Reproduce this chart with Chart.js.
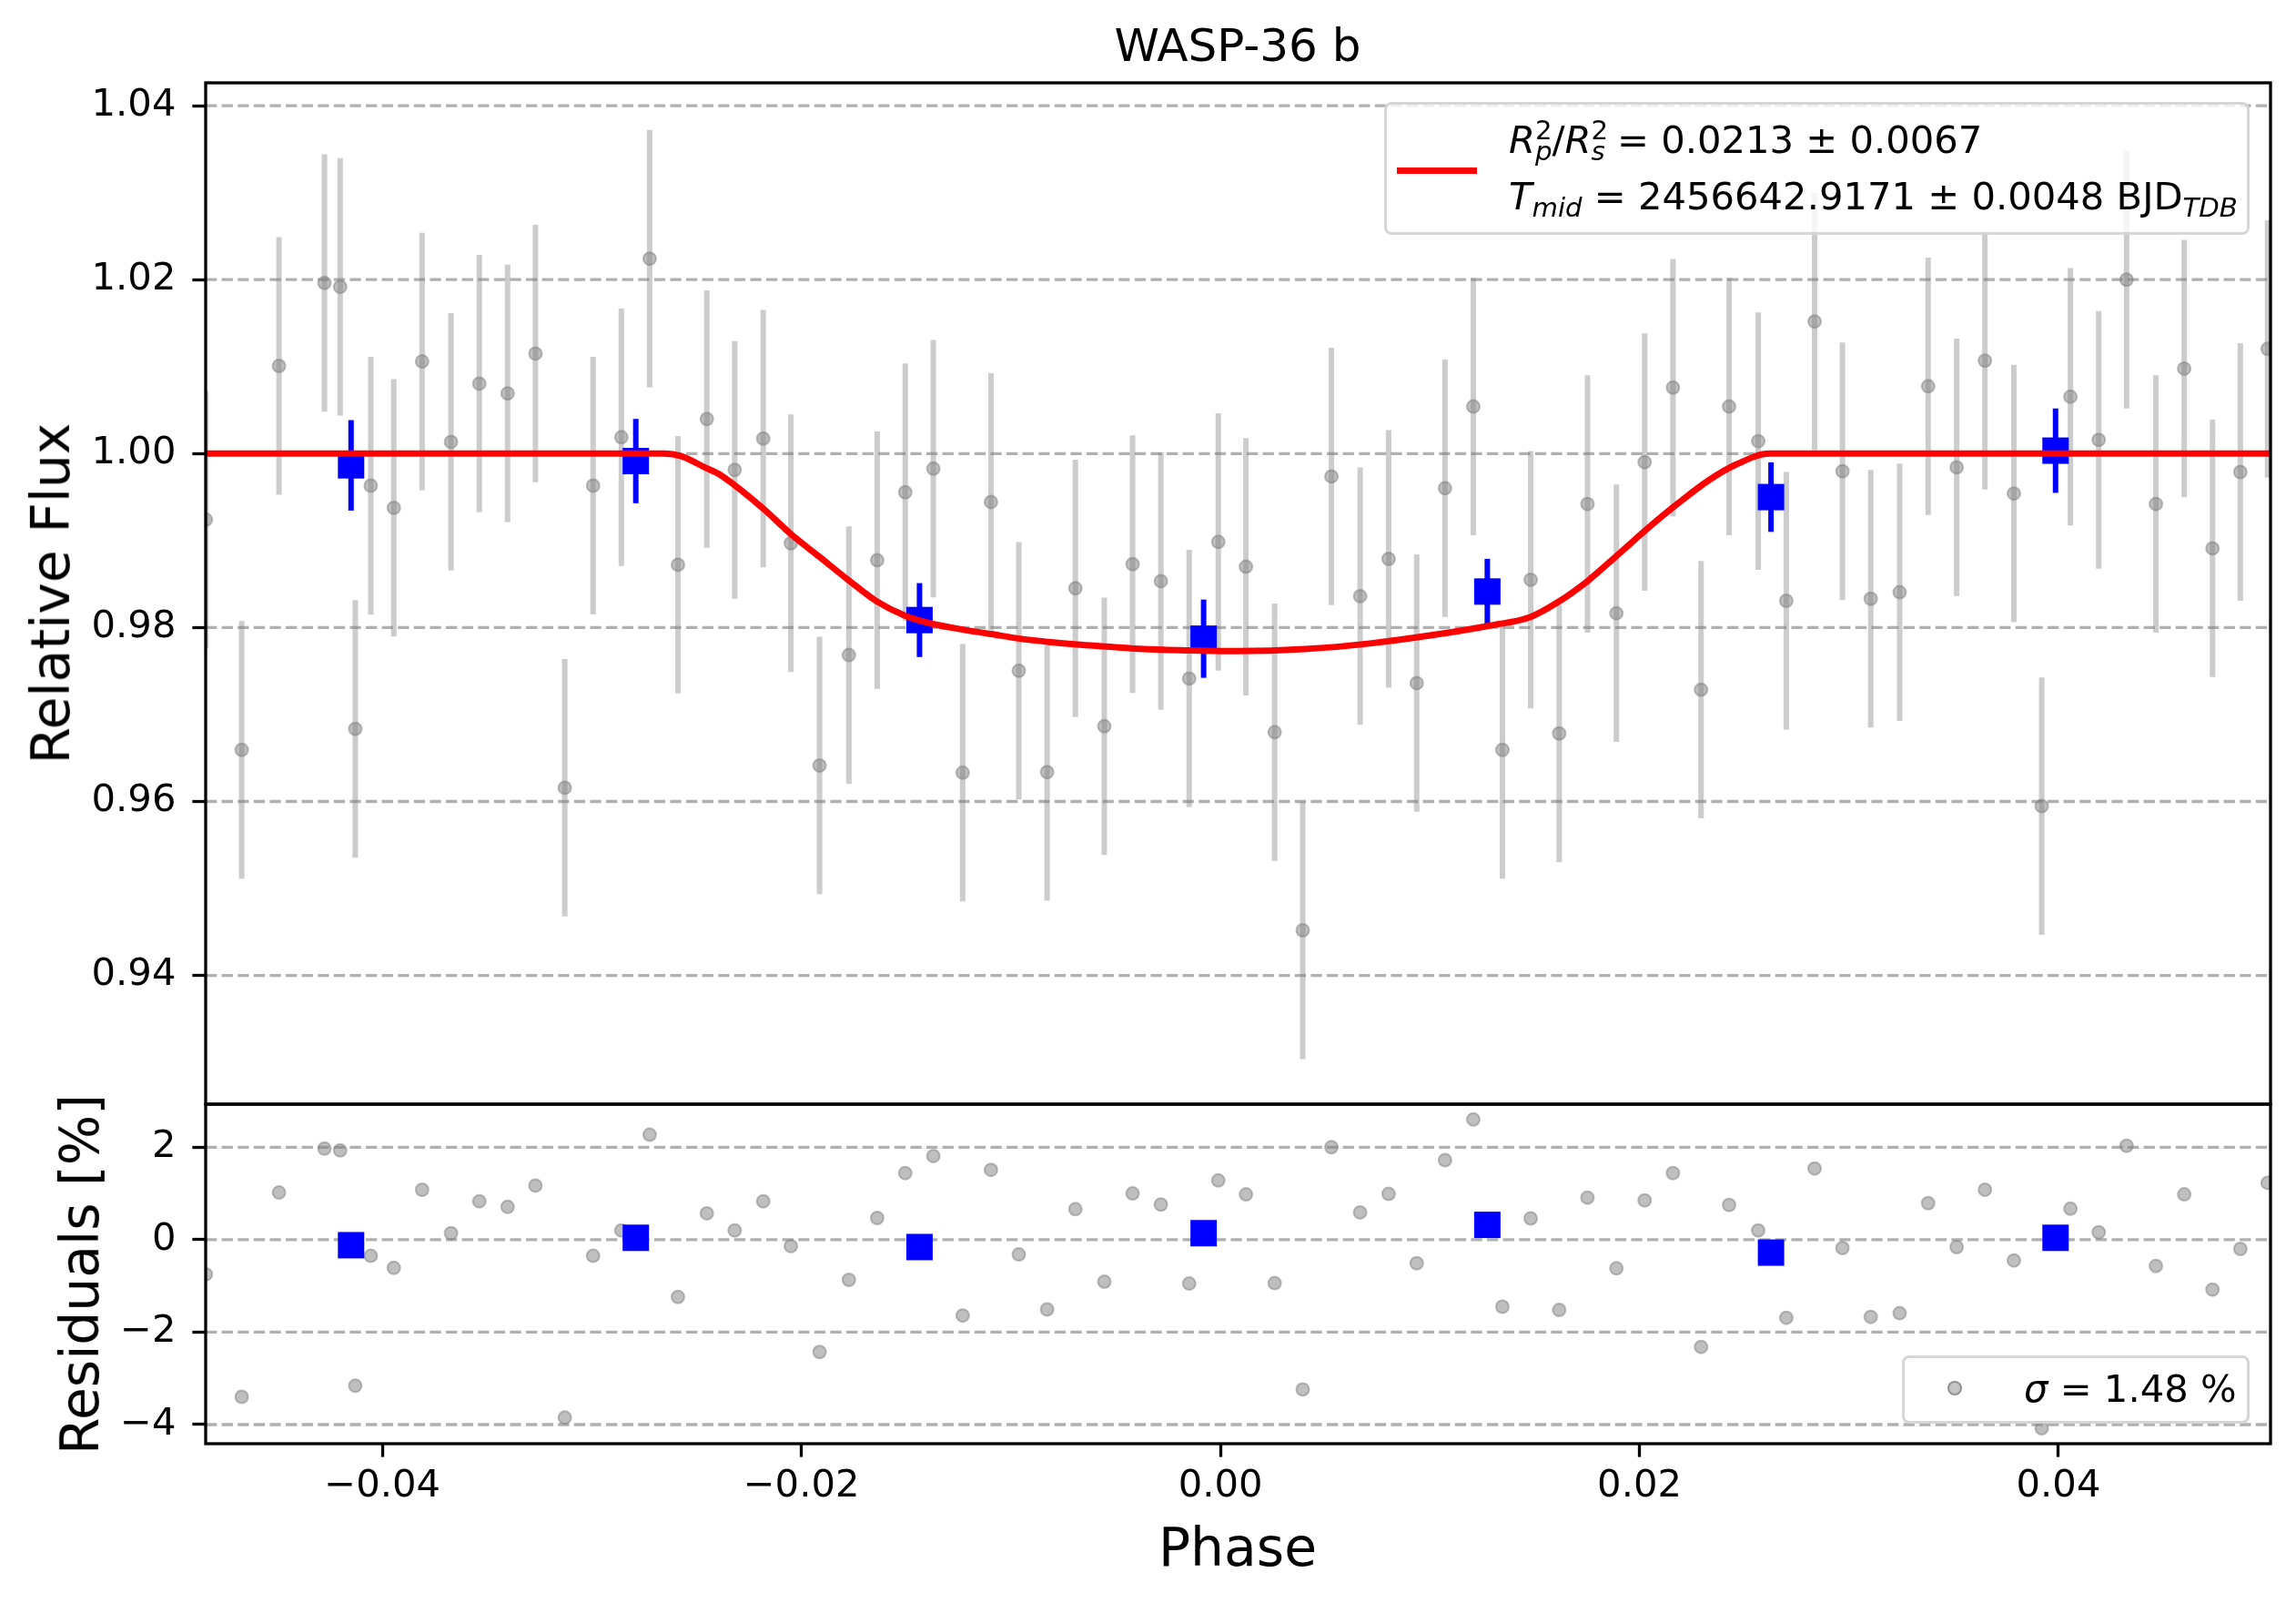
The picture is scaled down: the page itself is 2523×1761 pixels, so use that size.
<!DOCTYPE html>
<html>
<head>
<meta charset="utf-8">
<title>WASP-36 b</title>
<script src="https://cdn.jsdelivr.net/npm/chart.js@4.4.1/dist/chart.umd.min.js"></script>
<style>
body { margin: 0; background: #fff; }
#fig { position: relative; width: 2523px; height: 1761px; overflow: hidden; font-family: "DejaVu Sans", sans-serif; color: #000; }
canvas { position: absolute; left: 0; top: 0; }
.txt { position: absolute; white-space: nowrap; line-height: 1; }
.rot { position: absolute; white-space: nowrap; line-height: 1; transform: translate(-50%, -50%) rotate(-90deg); }
.legend { position: absolute; box-sizing: border-box; background: rgba(255,255,255,0.8); border: 3.3px solid rgba(204,204,204,0.8); border-radius: 8px; }
.sup { font-size: 0.7em; position: relative; top: -0.52em; }
.sub { font-size: 0.7em; position: relative; top: 0.3em; font-style: italic; }
</style>
</head>
<body>
<div id="fig">
  <canvas id="fluxChart" width="2523" height="1761"></canvas>
  <canvas id="residChart" width="2523" height="1761"></canvas>

  <div class="txt" style="left:1360px;top:24.7px;font-size:50px;transform:translateX(-50%)">WASP-36 b</div>
  <div class="rot" style="left:55.9px;top:652px;font-size:58.3px">Relative Flux</div>
  <div class="rot" style="left:87.9px;top:1399.5px;font-size:58.3px">Residuals [%]</div>
  <div class="txt" style="left:1360px;top:1670.7px;font-size:58.3px;transform:translateX(-50%)">Phase</div>

  <div class="legend" style="left:1521px;top:112px;width:951px;height:146px"></div>
  <div style="position:absolute;left:1535px;top:183.5px;width:88px;height:7px;background:#ff0000"></div>
  <div class="txt" style="left:1658px;top:132.7px;font-size:41.7px"><i>R</i><span class="sup">2</span><span class="sub" style="margin-left:-0.636em">p</span>/<i>R</i><span class="sup">2</span><span class="sub" style="margin-left:-0.636em">s</span> = 0.0213 ± 0.0067</div>
  <div class="txt" style="left:1658px;top:194.7px;font-size:41.7px"><i>T</i><span class="sub">mid</span> = 2456642.9171 ± 0.0048 BJD<span class="sub">TDB</span></div>

  <div class="legend" style="left:2090px;top:1489px;width:382px;height:75px"></div>
  <div style="position:absolute;left:2140px;top:1517px;width:16px;height:16px;box-sizing:border-box;border-radius:50%;background:rgba(128,128,128,0.45);border:2px solid rgba(110,110,110,0.6)"></div>
  <div class="txt" style="left:2224px;top:1504.7px;font-size:41.7px"><i>σ</i> = 1.48 %</div>
</div>

<script>
// Unbinned light curve (phase, relative flux, flux error, residual in %)
const phase = [
  -0.04842, -0.04671, -0.04493, -0.04276, -0.04201, -0.04129, -0.04055, -0.03945, -0.03810, -0.03672,
  -0.03537, -0.03402, -0.03269, -0.03129, -0.02994, -0.02859, -0.02724, -0.02589, -0.02451, -0.02318,
  -0.02182, -0.02050, -0.01913, -0.01773, -0.01638, -0.01504, -0.01370, -0.01230, -0.01095, -0.00962,
  -0.00827, -0.00692, -0.00554, -0.00419, -0.00284, -0.00149, -0.00010, 0.00122, 0.00259, 0.00393,
  0.00530, 0.00667, 0.00803, 0.00937, 0.01072, 0.01207, 0.01346, 0.01481, 0.01617, 0.01752,
  0.01890, 0.02025, 0.02160, 0.02294, 0.02428, 0.02567, 0.02701, 0.02836, 0.02969, 0.03104,
  0.03242, 0.03378, 0.03514, 0.03649, 0.03787, 0.03920, 0.04057, 0.04192, 0.04325, 0.04465,
  0.04600, 0.04735, 0.04868, 0.04998
];
const flux = [
  0.99241, 0.96594, 1.01008, 1.01962, 1.01917, 0.96835, 0.99632, 0.99376, 1.01060, 1.00135,
  1.00805, 1.00692, 1.01150, 0.96158, 0.99632, 1.00188, 1.02241, 0.98722, 1.00398, 0.99812,
  1.00173, 0.98970, 0.96414, 0.97684, 0.98774, 0.99556, 0.99827, 0.96331, 0.99444, 0.97504,
  0.96338, 0.98451, 0.96865, 0.98729, 0.98534, 0.97414, 0.98985, 0.98699, 0.96797, 0.94519,
  0.99737, 0.98361, 0.98789, 0.97361, 0.99602, 1.00541, 0.96594, 0.98549, 0.96782, 0.99421,
  0.98165, 0.99902, 1.00759, 0.97286, 1.00541, 1.00143, 0.98308, 1.01519, 0.99797, 0.98331,
  0.98406, 1.00774, 0.99842, 1.01068, 0.99541, 0.95947, 1.00654, 1.00158, 1.02000, 0.99421,
  1.00977, 0.98910, 0.99789, 1.01203
];
const fluxErr = [
  0.0148, 0.0148, 0.0148, 0.0148, 0.0148, 0.0148, 0.0148, 0.0148, 0.0148, 0.0148,
  0.0148, 0.0148, 0.0148, 0.0148, 0.0148, 0.0148, 0.0148, 0.0148, 0.0148, 0.0148,
  0.0148, 0.0148, 0.0148, 0.0148, 0.0148, 0.0148, 0.0148, 0.0148, 0.0148, 0.0148,
  0.0148, 0.0148, 0.0148, 0.0148, 0.0148, 0.0148, 0.0148, 0.0148, 0.0148, 0.0148,
  0.0148, 0.0148, 0.0148, 0.0148, 0.0148, 0.0148, 0.0148, 0.0148, 0.0148, 0.0148,
  0.0148, 0.0148, 0.0148, 0.0148, 0.0148, 0.0148, 0.0148, 0.0148, 0.0148, 0.0148,
  0.0148, 0.0148, 0.0148, 0.0148, 0.0148, 0.0148, 0.0148, 0.0148, 0.0148, 0.0148,
  0.0148, 0.0148, 0.0148, 0.0148
];
const resid = [
  -0.75, -3.40, 1.02, 1.97, 1.93, -3.16, -0.35, -0.61, 1.08, 0.14,
  0.83, 0.71, 1.17, -3.85, -0.35, 0.20, 2.27, -1.24, 0.57, 0.20,
  0.83, -0.14, -2.43, -0.87, 0.47, 1.44, 1.81, -1.64, 1.51, -0.32,
  -1.51, 0.66, -0.91, 1.00, 0.76, -0.95, 1.28, 0.98, -0.94, -3.24,
  2.00, 0.59, 0.99, -0.51, 1.72, 2.60, -1.45, 0.46, -1.52, 0.91,
  -0.62, 0.85, 1.44, -2.32, 0.75, 0.20, -1.69, 1.54, -0.18, -1.67,
  -1.59, 0.79, -0.16, 1.08, -0.45, -4.08, 0.67, 0.16, 2.03, -0.57,
  0.98, -1.08, -0.20, 1.23
];

// Binned points
const binPhase = [-0.04149, -0.02790, -0.01436, -0.00080, 0.01274, 0.02628, 0.03986];
const binFlux = [0.99865, 0.99914, 0.98086, 0.97872, 0.98414, 0.99500, 1.00034];
const binErr = [0.0052, 0.00485, 0.00425, 0.0045, 0.00376, 0.0040, 0.00485];
const binResid = [-0.12, 0.04, -0.16, 0.14, 0.32, -0.28, 0.04];

// Transit model
const modelPhase = [
  -0.0490, -0.02654, -0.02573, -0.02461, -0.02395, -0.02186, -0.02050, -0.01913, -0.01777, -0.01640,
  -0.01504, -0.01367, -0.01230, -0.01094, -0.00957, -0.00820, -0.00684, -0.00547, -0.00411, -0.00274,
  -0.00146, 0.00080, 0.00402, 0.00723, 0.01045, 0.01286, 0.01478, 0.01607, 0.01752, 0.01896,
  0.02041, 0.02185, 0.02330, 0.02459, 0.02620, 0.0505
];
const modelFlux = [
  1.00000, 1.00000, 0.99970, 0.99842, 0.99767, 0.99376, 0.99075, 0.98812, 0.98549, 0.98301,
  0.98135, 0.98038, 0.97977, 0.97925, 0.97872, 0.97835, 0.97805, 0.97782, 0.97759, 0.97744,
  0.97737, 0.97729, 0.97752, 0.97820, 0.97925, 0.98023, 0.98120, 0.98286, 0.98534, 0.98835,
  0.99143, 0.99429, 0.99692, 0.99872, 1.00000, 1.00000
];

// Axes
const phaseTicks = [-0.04, -0.02, 0.00, 0.02, 0.04];
const fluxTicks = [0.94, 0.96, 0.98, 1.00, 1.02, 1.04];
const residTicks = [-4, -2, 0, 2];
const phaseRange = [-0.04843, 0.05012];
const fluxRange = [0.9252, 1.04263];
const residRange = [-4.414, 2.931];

const tickFont = { family: 'DejaVu Sans', size: 41.7 };
const minus = s => s.replace('-', '\u2212');

// Panel decoration: dashed grid, error bars, axes frame
const panelPlugin = {
    id: 'panel',
    beforeDatasetsDraw(chart) {
        const { ctx, chartArea: a, scales } = chart;
        ctx.save();
        ctx.strokeStyle = '#b0b0b0';
        ctx.lineWidth = 3.3;
        ctx.setLineDash([12.3, 5.3]);
        scales.y.ticks.forEach(t => {
            const py = scales.y.getPixelForValue(t.value);
            ctx.beginPath();
            ctx.moveTo(a.left, py);
            ctx.lineTo(a.right, py);
            ctx.stroke();
        });
        ctx.restore();
    },
    beforeDatasetDraw(chart, args) {
        const ds = chart.data.datasets[args.index];
        if (!ds.yErr) return;
        const { ctx, chartArea: a, scales: { x, y } } = chart;
        ctx.save();
        ctx.beginPath();
        ctx.rect(a.left, a.top, a.width, a.height);
        ctx.clip();
        ctx.strokeStyle = ds.errColor;
        ctx.lineWidth = ds.errWidth;
        ds.data.forEach((p, i) => {
            const px = x.getPixelForValue(p.x);
            ctx.beginPath();
            ctx.moveTo(px, y.getPixelForValue(p.y - ds.yErr[i]));
            ctx.lineTo(px, y.getPixelForValue(p.y + ds.yErr[i]));
            ctx.stroke();
        });
        ctx.restore();
    },
    afterDraw(chart) {
        const { ctx, chartArea: a } = chart;
        ctx.save();
        ctx.strokeStyle = '#000';
        ctx.lineWidth = 3.3;
        ctx.strokeRect(a.left, a.top, a.right - a.left, a.bottom - a.top);
        ctx.restore();
    }
};

function makePanel(id, datasets, yRange, yTicks, yFormat, showX, padTop, padBottom) {
    return new Chart(document.getElementById(id), {
        type: 'scatter',
        data: { datasets: datasets },
        plugins: [panelPlugin],
        options: {
            responsive: false,
            animation: false,
            events: [],
            devicePixelRatio: 1,
            layout: { autoPadding: false, padding: { left: 0, right: 28, top: padTop, bottom: padBottom } },
            plugins: { legend: { display: false }, tooltip: { enabled: false } },
            scales: {
                x: {
                    type: 'linear',
                    display: showX,
                    min: phaseRange[0],
                    max: phaseRange[1],
                    afterBuildTicks: s => { s.ticks = phaseTicks.map(v => ({ value: v })); },
                    afterFit: s => { s.height = showX ? 175 : 0; },
                    border: { display: false },
                    grid: { drawOnChartArea: false, drawTicks: true, tickLength: 14.6, tickColor: '#000', tickWidth: 3.3 },
                    ticks: {
                        autoSkip: false, maxRotation: 0, padding: 8, color: '#000', font: tickFont,
                        callback: v => minus(v.toFixed(2))
                    }
                },
                y: {
                    type: 'linear',
                    min: yRange[0],
                    max: yRange[1],
                    afterBuildTicks: s => { s.ticks = yTicks.map(v => ({ value: v })); },
                    afterFit: s => { s.width = 226; },
                    border: { display: false },
                    grid: { drawOnChartArea: false, drawTicks: true, tickLength: 14.6, tickColor: '#000', tickWidth: 3.3 },
                    ticks: { autoSkip: false, padding: 18, color: '#000', font: tickFont, callback: yFormat }
                }
            }
        }
    });
}

const grayFill = 'rgba(128,128,128,0.5)';

makePanel('fluxChart', [
    {
        label: 'model',
        data: modelPhase.map((x, i) => ({ x: x, y: modelFlux[i] })),
        showLine: true,
        cubicInterpolationMode: 'monotone',
        borderColor: '#ff0000',
        borderWidth: 7,
        pointRadius: 0,
        order: 0
    },
    {
        label: 'binned',
        data: binPhase.map((x, i) => ({ x: x, y: binFlux[i] })),
        pointStyle: 'rect',
        pointRadius: 20.5,
        backgroundColor: '#0000ff',
        borderWidth: 0,
        yErr: binErr, errColor: '#0000ff', errWidth: 6,
        order: 1
    },
    {
        label: 'data',
        data: phase.map((x, i) => ({ x: x, y: flux[i] })),
        pointRadius: 7,
        backgroundColor: grayFill,
        borderColor: grayFill,
        borderWidth: 2,
        yErr: fluxErr, errColor: 'rgba(128,128,128,0.4)', errWidth: 6,
        order: 2
    }
], fluxRange, fluxTicks, v => v.toFixed(2), false, 91, 548);

makePanel('residChart', [
    {
        label: 'binned residuals',
        data: binPhase.map((x, i) => ({ x: x, y: binResid[i] })),
        pointStyle: 'rect',
        pointRadius: 20.5,
        backgroundColor: '#0000ff',
        borderWidth: 0,
        order: 0
    },
    {
        label: 'residuals',
        data: phase.map((x, i) => ({ x: x, y: resid[i] })),
        pointRadius: 7,
        backgroundColor: grayFill,
        borderColor: grayFill,
        borderWidth: 2,
        order: 1
    }
], residRange, residTicks, v => minus(String(v)), true, 1213, 0);
</script>
</body>
</html>
